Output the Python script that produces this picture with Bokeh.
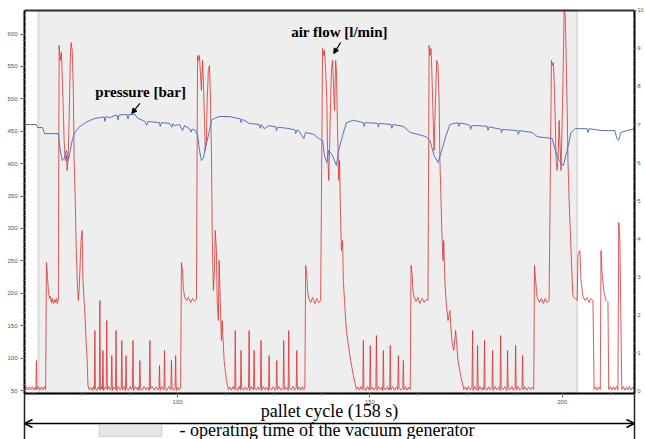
from bokeh.plotting import figure
from bokeh.models import (Range1d, LinearAxis, Label, Arrow, NormalHead, OpenHead,
                          BoxAnnotation, SingleIntervalTicker, FixedTicker)
from bokeh.embed import file_html
from bokeh.resources import INLINE

# ---------------- data ----------------
# air flow [l/min] vs time [s]
t_flow = [60.2, 60.6, 61.0, 61.4, 61.8, 62.2, 62.6, 63.0, 63.15, 63.3, 63.45, 63.8, 64.2,
          64.6, 65.0, 65.4, 65.7,
          65.9, 66.1, 66.4, 66.7, 66.9, 67.2, 67.4, 67.7, 68.0, 68.2, 68.5, 68.7, 69.0,
          69.2, 69.5, 69.8, 70.0, 70.3, 70.5, 70.8, 71.1, 71.3, 71.6, 71.8, 72.1, 72.3,
          72.6, 72.9, 73.1, 73.4, 73.6, 73.9, 74.2, 74.4, 74.7, 74.9, 75.2, 75.4, 75.7,
          76.0, 76.2, 76.5, 76.7, 77.0,
          77.4, 77.8, 78.2, 78.35, 78.5, 78.65, 79.0, 79.4, 79.65, 79.8, 79.95, 80.3,
          80.45, 80.6, 80.75, 81.1, 81.45, 81.6, 81.75, 82.1, 82.5, 82.75, 82.9, 83.05,
          83.4, 83.85, 84.0, 84.15, 84.6, 85.0, 85.35, 85.5, 85.65, 86.0, 86.45, 86.6,
          86.75, 87.2, 87.7, 88.0, 88.25, 88.4, 88.55, 89.0, 89.5, 89.8, 90.05, 90.2,
          90.35, 90.8, 91.3, 91.8, 92.2, 92.65, 92.8, 92.95, 93.4, 93.9, 94.4, 94.8,
          95.15, 95.3, 95.45, 95.9, 96.45, 96.6, 96.75, 97.2, 97.7, 98.25, 98.4, 98.55,
          98.9, 99.35, 99.5, 99.65, 100.0, 100.4, 100.8,
          101.0, 101.3, 101.5, 101.8, 102.3, 102.8, 103.4, 103.9, 104.4, 104.9,
          105.2, 105.4, 105.7, 105.9, 106.2, 106.5, 106.7, 107.0, 107.2, 107.5, 107.7,
          108.0, 108.3, 108.5, 108.8, 109.0, 109.3, 109.6, 109.8, 110.1, 110.3, 110.6,
          110.8, 111.1, 111.4, 111.6, 112.1, 112.7, 113.2,
          113.6, 114.0, 114.4, 114.85, 115.0, 115.15, 115.6, 116.0, 116.35, 116.5,
          116.65, 117.1, 117.6, 118.0, 118.45, 118.6, 118.75, 119.2, 119.75, 119.9,
          120.05, 120.5, 120.9, 121.3, 121.55, 121.7, 121.85, 122.3, 122.8, 123.2,
          123.65, 123.8, 123.95, 124.4, 124.9, 125.3, 125.65, 125.8, 125.95, 126.4,
          126.9, 127.45, 127.6, 127.75, 128.2, 128.75, 128.9, 129.05, 129.5, 130.0,
          130.4, 130.85, 131.0, 131.15, 131.6, 132.0, 132.4, 132.8, 133.1,
          133.3, 133.6, 133.8, 134.1, 134.6, 135.1, 135.7, 136.2, 136.7, 137.2,
          137.7, 138.0, 138.2, 138.5, 138.8, 139.0, 139.3, 139.5, 139.8, 140.0, 140.3,
          140.6, 140.8, 141.1, 141.3, 141.6, 141.9, 142.1, 142.4, 142.6, 142.9, 143.1,
          143.4, 143.7, 143.9, 144.4, 145.0, 145.7, 146.5,
          146.9, 147.3, 147.7, 148.15, 148.3, 148.45, 148.9, 149.4, 149.8, 149.95,
          150.1, 150.25, 150.7, 151.1, 151.55, 151.7, 151.85, 152.3, 152.8, 153.2,
          153.35, 153.5, 153.65, 154.1, 154.6, 155.0, 155.15, 155.3, 155.45, 155.9,
          156.4, 156.9, 157.25, 157.4, 157.55, 158.0, 158.55, 158.7, 158.85, 159.3,
          159.7, 160.1, 160.5,
          160.7, 161.0, 161.2, 161.5, 162.0, 162.5, 163.0, 163.6, 164.1, 164.6, 165.1,
          165.4, 165.6, 165.9, 166.1, 166.4, 166.7, 166.9, 167.2, 167.4, 167.7, 168.0,
          168.2, 168.5, 168.7, 169.0, 169.2, 169.5, 169.8, 170.3, 170.8, 171.3, 171.8,
          172.3, 172.9, 173.6, 174.4,
          174.8, 175.2, 175.6, 176.1, 176.55, 176.7, 176.85, 177.3, 177.7, 177.85,
          178.0, 178.15, 178.6, 179.1, 179.5, 179.65, 179.8, 179.95, 180.4, 180.9,
          181.3, 181.75, 181.9, 182.05, 182.5, 183.0, 183.5, 183.85, 184.0, 184.15,
          184.6, 185.1, 185.65, 185.8, 185.95, 186.4, 186.9, 187.3, 187.75, 187.9,
          188.05, 188.5, 189.0, 189.55, 189.7, 189.85, 190.3, 190.8, 191.3, 191.8,
          192.2, 192.6,
          192.8, 193.0, 193.3, 193.5, 194.1, 194.6, 195.1, 195.6, 196.1, 196.6,
          197.2, 197.4, 197.7, 197.9, 198.2, 198.4, 198.7, 199.0, 199.2, 199.5, 199.7,
          200.0, 200.3, 200.5, 200.8, 201.0, 201.3, 201.5, 201.8, 202.1, 202.3, 202.6,
          202.8, 203.4, 203.9, 204.1, 204.6, 204.9, 205.4, 205.9, 206.5, 207.0, 207.5,
          208.0,
          208.3, 208.7, 209.1, 209.5, 209.9, 210.1, 210.3, 210.8, 211.4, 211.9, 212.1,
          212.5, 212.9, 213.3, 213.7, 214.1, 214.5, 214.7, 215.0, 215.2, 215.5, 215.9,
          216.3, 216.7, 217.1, 217.5, 217.9, 218.3, 218.8]
flow = [51.6, 56.2, 50.5, 55.5, 51.0, 56.0, 50.5, 55.0, 51.0, 96.3, 52.0, 56.0, 50.5,
        55.5, 51.0, 56.0, 51.6,
        247.5, 232.1, 204.3, 192.0, 195.1, 185.8, 192.0, 184.3, 190.4, 185.8, 192.0, 184.3, 188.9,
        582.4, 559.2, 571.6, 536.1, 482.1, 435.8, 404.9, 412.6, 389.5, 420.4, 466.6, 559.2, 587.0,
        574.7, 513.1, 404.9, 343.2, 281.5, 219.8, 188.9, 204.3, 250.6, 281.5, 296.9, 219.8, 188.9,
        158.0, 127.2, 96.3, 57.8, 51.6,
        54.7, 50.0, 56.2, 52.0, 142.6, 53.0, 50.0, 55.5, 52.0, 188.9, 51.0, 56.0,
        52.0, 111.8, 50.0, 55.0, 53.0, 158.0, 51.0, 56.2, 50.5, 53.0, 104.0, 50.0,
        55.5, 52.0, 142.6, 50.0, 56.0, 51.0, 54.0, 127.2, 51.0, 56.2, 50.0, 104.0,
        54.0, 50.5, 56.0, 51.5, 55.0, 127.2, 50.0, 56.0, 51.0, 55.5, 50.0, 96.3,
        54.0, 50.5, 56.2, 51.0, 55.0, 50.0, 127.2, 53.0, 56.0, 50.5, 55.5, 51.0,
        54.0, 88.6, 50.0, 56.0, 51.0, 111.8, 54.0, 50.0, 56.2, 51.0, 96.3, 55.0,
        50.5, 55.0, 104.0, 50.0, 55.5, 51.0, 54.0,
        247.5, 235.2, 207.4, 195.1, 188.9, 193.6, 185.8, 192.0, 187.4, 190.4,
        566.9, 559.2, 566.9, 543.8, 513.1, 559.2, 528.4, 466.6, 420.4, 435.8, 497.5,
        543.8, 551.5, 513.1, 420.4, 296.9, 204.3, 235.2, 296.9, 266.0, 188.9, 158.0,
        250.6, 188.9, 127.2, 158.0, 96.3, 65.5, 51.6,
        55.5, 50.5, 56.0, 51.0, 142.6, 54.0, 50.0, 56.2, 51.0, 111.8,
        55.0, 50.5, 55.5, 51.0, 55.0, 142.6, 50.0, 56.0, 51.0, 111.8,
        54.0, 50.5, 55.5, 51.0, 55.0, 127.2, 50.0, 56.2, 51.0, 55.0,
        50.0, 104.0, 54.0, 51.0, 56.0, 50.5, 55.0, 96.3, 51.0, 56.0,
        50.5, 55.0, 127.2, 51.0, 55.5, 50.0, 142.6, 54.0, 51.0, 56.2,
        50.5, 55.0, 111.8, 51.0, 55.5, 50.5, 56.0, 51.0, 54.0,
        242.9, 227.5, 204.3, 192.0, 185.8, 193.6, 184.3, 192.0, 185.8, 188.9,
        577.7, 566.9, 574.7, 543.8, 497.5, 420.4, 374.1, 420.4, 497.5, 543.8, 559.2,
        513.1, 482.1, 559.2, 543.8, 451.2, 374.1, 404.9, 312.3, 266.0, 281.5, 219.8,
        188.9, 158.0, 142.6, 119.5, 96.3, 73.2, 51.6,
        55.5, 50.5, 56.0, 51.0, 127.2, 54.0, 50.0, 56.2, 51.0, 55.0,
        119.5, 51.0, 55.5, 50.5, 55.0, 134.9, 50.0, 56.0, 51.0, 55.5,
        50.0, 111.8, 54.0, 51.0, 56.2, 50.5, 55.0, 119.5, 51.0, 56.0,
        50.5, 55.5, 51.0, 104.0, 55.0, 50.5, 55.0, 96.3, 51.0, 56.0,
        50.5, 55.0, 51.6,
        242.9, 227.5, 204.3, 193.6, 187.4, 193.6, 184.3, 192.0, 185.8, 190.4, 188.9,
        582.4, 566.9, 577.7, 543.8, 482.1, 420.4, 466.6, 528.4, 559.2, 551.5, 497.5,
        404.9, 343.2, 296.9, 250.6, 281.5, 219.8, 188.9, 158.0, 173.5, 127.2, 111.8,
        142.6, 96.3, 73.2, 51.6,
        55.5, 50.5, 56.0, 51.0, 55.0, 142.6, 50.0, 56.0, 51.0, 54.0,
        119.5, 50.0, 56.2, 50.5, 55.5, 51.0, 127.2, 55.0, 50.5, 56.0,
        51.0, 55.0, 111.8, 50.0, 56.2, 51.0, 55.5, 50.0, 134.9, 54.0,
        51.0, 56.0, 50.0, 111.8, 55.0, 51.0, 56.2, 50.5, 55.0, 119.5,
        51.0, 56.0, 50.5, 55.0, 104.0, 51.0, 56.0, 50.5, 55.5, 51.0,
        55.0, 51.6,
        242.9, 227.5, 204.3, 193.6, 185.8, 192.0, 184.3, 192.0, 185.8, 188.9,
        559.2, 551.5, 556.0, 528.4, 466.6, 404.9, 389.5, 420.4, 466.6, 420.4, 389.5,
        466.6, 559.2, 636.4, 628.7, 574.7, 482.1, 404.9, 343.2, 296.9, 266.0, 219.8,
        195.1, 192.0, 188.9, 258.3, 266.0, 219.8, 195.1, 188.9, 193.6, 185.8, 192.0,
        188.9,
        51.6, 56.0, 50.5, 55.5, 51.6, 266.0, 235.2, 204.3, 188.9, 185.8, 51.6,
        56.0, 50.5, 55.5, 51.0, 56.2, 50.5, 309.3, 281.5, 188.9, 51.6, 56.0,
        50.5, 55.5, 51.0, 56.2, 50.5, 55.0, 51.6]

# pressure [bar] vs time [s]
t_pres = [60.2, 63.3, 63.6, 64.9, 65.4, 69.0, 69.5, 70.0, 70.5, 71.1, 71.6, 72.1, 72.6,
          73.1, 73.6, 74.7, 76.0, 77.3, 78.5, 79.8, 80.9, 81.1, 81.4, 82.4, 83.7, 84.3,
          84.5, 84.8, 86.3, 86.9, 87.1, 87.4, 88.9, 89.7, 91.5, 92.0, 92.3, 95.3, 95.5,
          95.8, 97.9, 98.5, 98.8, 99.2, 100.5, 101.3, 101.8, 103.1, 103.5, 103.8, 104.6,
          105.2, 105.7, 106.2, 106.7, 107.2, 107.7, 108.3, 108.8, 109.6, 110.8, 113.4,
          116.3, 116.5, 116.8, 118.6, 121.2, 121.5, 121.8, 122.5, 123.8, 125.5, 125.7,
          126.0, 128.5, 130.5, 130.7, 131.0, 131.5, 132.8, 133.3, 135.4, 136.7,
          137.7, 138.2, 138.8, 139.3, 140.3, 141.3, 141.9, 142.9, 143.9, 145.7, 148.3,
          148.5, 148.8, 152.0, 152.2, 152.5, 155.5, 155.7, 156.0, 158.7, 160.5, 162.5,
          164.6, 165.6, 166.7, 167.7, 168.7, 169.8, 170.8, 172.9, 173.1, 173.4, 175.4,
          176.0, 176.2, 176.5, 178.0, 180.5, 180.7, 181.0, 183.2, 184.0, 184.2, 184.5,
          188.4, 188.6, 188.9, 192.2, 193.5, 197.4, 198.2, 199.2, 200.3, 201.3, 202.3,
          203.4, 206.5, 206.7, 207.0, 210.3, 213.7, 214.2, 214.7, 215.2, 216.8, 218.8]
pres = [7.00, 7.00, 6.92, 6.92, 6.76, 6.76, 6.32, 6.05, 6.11, 6.32, 6.05, 6.32, 6.58,
        6.74, 6.84, 6.95, 7.05, 7.11, 7.16, 7.18, 7.20, 7.08, 7.21, 7.18, 7.24, 7.24,
        7.12, 7.25, 7.26, 7.26, 7.15, 7.27, 7.26, 7.16, 7.08, 6.98, 7.08, 7.05, 6.95,
        7.05, 7.03, 6.93, 7.02, 6.97, 7.00, 6.84, 6.97, 6.89, 6.80, 6.88, 6.84,
        6.71, 6.32, 6.05, 6.11, 6.37, 6.58, 6.84, 7.11, 7.16, 7.21, 7.21,
        7.15, 7.05, 7.14, 7.03, 7.00, 6.90, 7.00, 6.89, 6.97, 6.94, 6.84,
        6.93, 6.90, 6.86, 6.76, 6.85, 6.84, 6.63, 6.79, 6.74, 6.63,
        6.58, 6.18, 6.00, 6.32, 6.18, 5.92, 6.32, 6.71, 7.05, 7.11, 7.05,
        6.95, 7.05, 7.03, 6.93, 7.03, 7.00, 6.90, 7.00, 6.95, 6.79, 6.74,
        6.68, 6.58, 6.18, 6.00, 6.32, 6.71, 7.00, 7.05, 6.95, 7.04, 7.00,
        6.97, 6.87, 6.97, 6.97, 6.95, 6.85, 6.94, 6.89, 6.88, 6.78, 6.87,
        6.84, 6.74, 6.84, 6.79, 6.68, 6.63, 6.32, 6.05, 5.92, 6.32, 6.79,
        6.89, 6.89, 6.79, 6.89, 6.84, 6.84, 6.63, 6.58, 6.79, 6.84, 6.89]

# axis limits of the chart box and the operating window of the vacuum generator [s]
x_start, x_end = 60.2, 218.8
flow_start, flow_end = 45.4, 636.4
pres_start, pres_end = -0.08, 10.0
gen_start, gen_end = 63.8, 203.9
cycle_text = "pallet cycle (158 s)"
legend_text = "- operating time of the vacuum generator"

# the canvas shows a little more than the chart box (room for the notes below it)
view_x = (53.96, 221.66)
view_flow = (-25.6, 651.8)
view_pres = (-1.289, 10.263)

SERIF = "Liberation Serif"
SANS = "Liberation Sans"

p = figure(width=645, height=439, x_range=Range1d(*view_x), y_range=Range1d(*view_flow),
           x_axis_type=None, y_axis_type=None, output_backend="svg",
           toolbar_location=None, background_fill_color="white", border_fill_color="white")
p.min_border = 0
p.min_border_left = 0
p.min_border_right = 0
p.min_border_top = 0
p.min_border_bottom = 0
p.outline_line_color = None
p.extra_y_ranges = {"pres": Range1d(*view_pres)}


def style_axis(ax, width=2, color="black"):
    ax.axis_line_color = color
    ax.axis_line_width = width
    ax.major_tick_in = 0
    ax.major_tick_out = 4
    ax.minor_tick_in = 0
    ax.minor_tick_out = 2
    ax.major_tick_line_color = "#555555"
    ax.minor_tick_line_color = "#888888"
    ax.major_label_text_font = SANS
    ax.major_label_text_font_size = "6px"
    ax.major_label_text_color = "#555555"
    ax.major_label_standoff = 3


# operating window of the vacuum generator (drawn first, under everything)
p.add_layout(BoxAnnotation(left=gen_start, right=gen_end, bottom=flow_start, top=flow_end,
                           fill_color="#eeeeee", fill_alpha=1, line_color="#a4a4a4",
                           line_width=2, level="underlay"))

p.line(t_flow, flow, line_color="#dd2f2f", line_alpha=0.8, line_width=1)
p.line(t_pres, pres, line_color="#5b6fc2", line_width=1, y_range_name="pres")

# chart box: four axes pinned to its edges
left = LinearAxis(ticker=SingleIntervalTicker(interval=50, num_minor_ticks=5),
                  fixed_location=x_start, bounds=(flow_start, flow_end))
style_axis(left)
p.add_layout(left, "left")

bottom = LinearAxis(ticker=SingleIntervalTicker(interval=50, num_minor_ticks=4),
                    fixed_location=flow_start, bounds=(x_start, x_end))
style_axis(bottom)
p.add_layout(bottom, "below")

right = LinearAxis(y_range_name="pres", ticker=SingleIntervalTicker(interval=1, num_minor_ticks=4),
                   fixed_location=x_end, bounds=(pres_start, pres_end))
style_axis(right)
right.major_label_standoff = 1
right.major_tick_out = 2
right.minor_tick_out = 1
right.major_label_text_font_size = "5.5px"
p.add_layout(right, "right")

top = LinearAxis(ticker=FixedTicker(ticks=[]), fixed_location=flow_end,
                 bounds=(x_start, x_end))
style_axis(top, width=2, color="#333333")
p.add_layout(top, "above")

# in-plot annotations
p.add_layout(Label(x=90.4, y=510, text="pressure [bar]", text_font=SERIF,
                   text_font_style="bold", text_font_size="15px", text_align="center",
                   text_baseline="middle", text_color="black"))
p.add_layout(Arrow(end=NormalHead(size=5, fill_color="black", line_color="black"),
                   x_start=90.2, y_start=493, x_end=88.1, y_end=477.5,
                   line_width=1.2, line_color="black"))
p.add_layout(Label(x=142.1, y=602.5, text="air flow [l/min]", text_font=SERIF,
                   text_font_style="bold", text_font_size="15px", text_align="center",
                   text_baseline="middle", text_color="black"))
p.add_layout(Arrow(end=NormalHead(size=5, fill_color="black", line_color="black"),
                   x_start=142.4, y_start=587, x_end=140.6, y_end=570,
                   line_width=1.2, line_color="black"))

# below the chart box: pallet cycle dimension and legend
for xx in (x_start, x_end):
    p.add_layout(Arrow(end=None, x_start=xx, y_start=flow_start, x_end=xx, y_end=view_flow[0],
                       line_color="#222222", line_width=1.5))
p.add_layout(Label(x=(x_start + x_end) / 2, y=18.4, text=cycle_text, text_font=SERIF,
                   text_font_size="18px", text_align="center", text_baseline="middle",
                   text_color="black"))
p.add_layout(Arrow(start=OpenHead(size=8, line_width=1.5), end=OpenHead(size=8, line_width=1.5),
                   x_start=x_start, y_start=-0.9, x_end=x_end, y_end=-0.9,
                   line_width=1.5, line_color="black"))
p.add_layout(BoxAnnotation(left=79.6, right=95.9, bottom=-20.9, top=-2.4,
                           fill_color="#e6e6e6", fill_alpha=1, line_color="#888888",
                           line_width=1))
p.add_layout(Label(x=100.5, y=-10.2, text=legend_text, text_font=SERIF,
                   text_font_size="18px", text_align="left", text_baseline="middle",
                   text_color="black"))

open("out.html", "w").write(file_html(p, INLINE))
